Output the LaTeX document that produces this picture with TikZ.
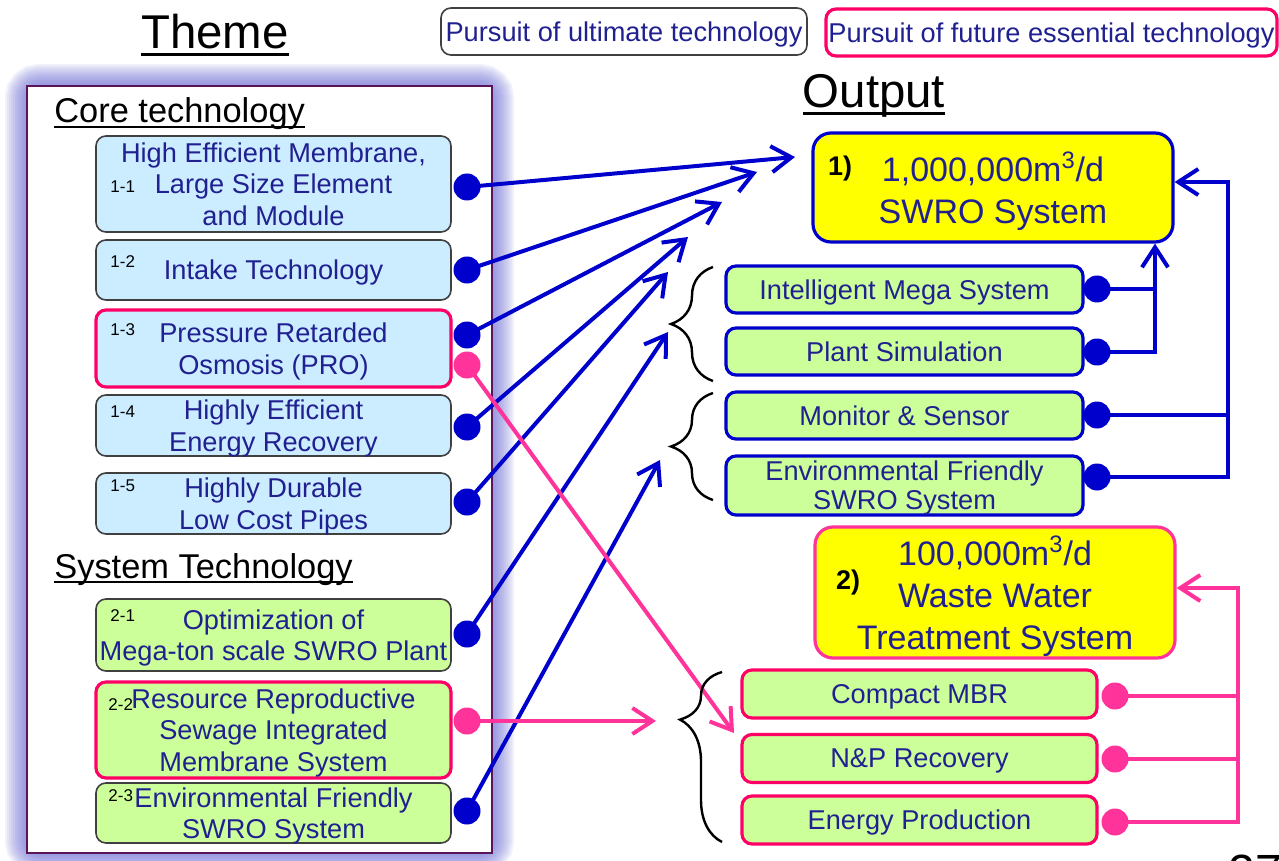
\documentclass[tikz,border=0pt]{standalone}
\usepackage{fontspec}
\setmainfont{Liberation Sans}
\usepackage{tikz}
\usetikzlibrary{arrows.meta,positioning,calc,decorations.pathreplacing}
\usepackage{xcolor}
\definecolor{LinkBlue}{RGB}{0,0,204}
\definecolor{LinkPink}{RGB}{255,51,153}
\definecolor{FutPink}{RGB}{255,0,102}
\definecolor{TxtNavy}{RGB}{32,32,144}
\definecolor{CoreBlue}{RGB}{204,236,255}
\definecolor{SysGreen}{RGB}{204,255,153}
\definecolor{OutYellow}{RGB}{255,255,0}
\definecolor{EdgeGray}{RGB}{64,64,64}
\definecolor{FramePlum}{RGB}{90,20,90}
\definecolor{GlowLav}{RGB}{100,100,210}
\newcommand{\headline}[1]{\setbox0=\hbox{#1}\rlap{\rule[-0.14em]{\wd0}{0.055em}}\box0}
\newcommand{\boxfont}{\fontsize{13.6}{15.8}\selectfont}
\newcommand{\outfont}{\fontsize{17}{21}\selectfont}

\begin{document}
\begin{tikzpicture}[x=0.5pt,y=-0.5pt,
  lbox/.style={rounded corners=5pt,minimum width=177.5pt,inner sep=0pt,text depth=0pt,
               align=center,text=TxtNavy,font=\boxfont},
  ultbox/.style={lbox,draw=EdgeGray,line width=0.8pt},
  futbox/.style={lbox,draw=FutPink,line width=1.6pt},
  rbox/.style={draw=LinkBlue,fill=SysGreen,line width=1.6pt,rounded corners=5pt,text depth=0pt,
               minimum height=23.5pt,inner sep=0pt,align=center,text=TxtNavy,font=\boxfont},
  pbox/.style={rbox,draw=FutPink,minimum width=177.5pt,minimum height=24pt},
  outbox/.style={fill=OutYellow,line width=1.6pt,rounded corners=9pt,minimum width=180pt,
                 inner sep=0pt,text depth=0pt,align=center,text=TxtNavy,font=\outfont},
  numtag/.style={font=\fontsize{8.5}{9}\selectfont,inner sep=0pt,anchor=west},
  heading/.style={font=\fontsize{17.2}{20}\selectfont,anchor=base west,inner sep=0pt},
  bdot/.style={circle,fill=LinkBlue,minimum size=13.5pt,inner sep=0pt},
  pdot/.style={bdot,fill=LinkPink},
  blink/.style={LinkBlue,line width=2pt},
  plink/.style={LinkPink,line width=2pt},
  tip/.style={-{Straight Barb[length=10pt,width=13pt]}},
  curly/.style={decorate,decoration={brace,amplitude=21pt},line width=1.2pt},
]
\useasboundingbox (0,0) rectangle (1279,861);

\node[font=\fontsize{23.7}{28}\selectfont,anchor=base,inner sep=0pt] (theme) at (215,49) {\headline{Theme}};
\node[font=\fontsize{23.7}{28}\selectfont,anchor=base,inner sep=0pt] (output) at (874,108) {\headline{Output}};
\node[ultbox,fill=white,minimum width=183pt,minimum height=23.5pt] (ult) at (624,31.5) {Pursuit of ultimate technology};
\node[futbox,fill=white,minimum width=225.5pt,minimum height=23.5pt] (fut) at (1051.5,32.5) {Pursuit of future essential technology};

\foreach \gw in {2,4,...,22}
  \draw[GlowLav,opacity=0.09,line width=\gw pt,rounded corners=6pt] (27,86) rectangle (492,853);
\draw[FramePlum,fill=white,line width=1.2pt] (27,86) rectangle (492,853);

\node[heading] (core) at (54,123) {\headline{Core technology}};
\node[heading] (systech) at (54,578) {\headline{System Technology}};

\node[ultbox,fill=CoreBlue,minimum height=48pt] (b11) at (273.5,184) {High Efficient Membrane,\\Large Size Element\\and Module};
\node[ultbox,fill=CoreBlue,minimum height=30pt] (b12) at (273.5,270) {Intake Technology};
\node[futbox,fill=CoreBlue,minimum height=38.5pt] (b13) at (273.5,348.5) {Pressure Retarded\\Osmosis (PRO)};
\node[ultbox,fill=CoreBlue,minimum height=30.5pt] (b14) at (273.5,425.5) {Highly Efficient\\Energy Recovery};
\node[ultbox,fill=CoreBlue,minimum height=30.5pt] (b15) at (273.5,503.5) {Highly Durable\\Low Cost Pipes};
\node[ultbox,fill=SysGreen,minimum height=36pt] (b21) at (273.5,635) {Optimization of\\Mega-ton scale SWRO Plant};
\node[futbox,fill=SysGreen,minimum height=48pt] (b22) at (273.5,730) {Resource Reproductive\\Sewage Integrated\\Membrane System};
\node[ultbox,fill=SysGreen,minimum height=30pt] (b23) at (273.5,813) {Environmental Friendly\\SWRO System};

\node[numtag] (n11) at (110,187) {1-1};
\node[numtag] (n12) at (110,262) {1-2};
\node[numtag] (n13) at (110,330) {1-3};
\node[numtag] (n14) at (110,412) {1-4};
\node[numtag] (n15) at (110,486) {1-5};
\node[numtag] (n21) at (110,616) {2-1};
\node[numtag] (n22) at (108,705) {2-2};
\node[numtag] (n23) at (108,796) {2-3};

\node[outbox,draw=LinkBlue,minimum height=54.5pt] (out1) at (993,187.5) {1,000,000m\textsuperscript{3}/d\\SWRO System};
\node[font=\bfseries\fontsize{13.5}{15}\selectfont,inner sep=0pt] (o1tag) at (840,169) {1)};
\node[outbox,draw=LinkPink,minimum height=65.5pt] (out2) at (995,592.5) {100,000m\textsuperscript{3}/d\\Waste Water\\Treatment System};
\node[font=\bfseries\fontsize{13.5}{15}\selectfont,inner sep=0pt] (o2tag) at (848,583) {2)};

\node[rbox,minimum width=178.5pt] (ims) at (904.5,289.5) {Intelligent Mega System};
\node[rbox,minimum width=178.5pt] (psim) at (904.5,351.5) {Plant Simulation};
\node[rbox,minimum width=178.5pt] (msen) at (904.5,415.5) {Monitor \& Sensor};
\node[rbox,minimum width=178.5pt,minimum height=29.5pt,font=\fontsize{13.6}{14.5}\selectfont] (efs) at (904.5,485.5) {Environmental Friendly\\SWRO System};

\node[pbox] (cmbr) at (919.5,694) {Compact MBR};
\node[pbox] (npr) at (919.5,758.5) {N\&P Recovery};
\node[pbox] (eprod) at (919.5,820) {Energy Production};

\node[bdot] (d11) at (467,187) {};
\node[bdot] (d12) at (467,270) {};
\node[bdot] (d13) at (467,335) {};
\node[pdot] (p13) at (467,365) {};
\node[bdot] (d14) at (467,427) {};
\node[bdot] (d15) at (467,502) {};
\node[bdot] (d21) at (467,634) {};
\node[pdot] (p22) at (467,721) {};
\node[bdot] (d23) at (467,811) {};

\node[bdot] (dims) at (1097,289) {};
\node[bdot] (dps) at (1097,352) {};
\node[bdot] (dms) at (1097,415) {};
\node[bdot] (defs) at (1097,477) {};
\node[pdot] (dcm) at (1115,696) {};
\node[pdot] (dnp) at (1115,759) {};
\node[pdot] (dep) at (1115,822) {};

\coordinate (t11) at (795,157);
\coordinate (t12) at (757,172);
\coordinate (t13) at (722,202);
\coordinate (t14) at (688,237);
\coordinate (t15) at (668,272);
\coordinate (t21) at (668,332);
\coordinate (t23) at (660,460);
\coordinate (q13) at (734,733);
\coordinate (q22) at (656,721);

\draw[blink,tip] (d11.center) -- (t11);
\draw[blink,tip] (d12.center) -- (t12);
\draw[blink,tip] (d13.center) -- (t13);
\draw[blink,tip] (d14.center) -- (t14);
\draw[blink,tip] (d15.center) -- (t15);
\draw[blink,tip] (d21.center) -- (t21);
\draw[blink,tip] (d23.center) -- (t23);
\draw[plink,tip] (p13.center) -- (q13);
\draw[plink,tip] (p22.center) -- (q22);

\draw[curly] (713,381) -- (713,267);
\draw[curly] (713,500) -- (713,393);
\draw[decorate,decoration={brace,amplitude=21pt,aspect=0.72},line width=1.2pt] (722,842) -- (722,672);

\coordinate (jA) at (1155,352);
\coordinate (jB) at (1228,182);
\coordinate (jC) at (1238,588);
\draw[blink] (dims.center) -- (dims.center -| jA);
\draw[blink,tip] (dps.center) -| (jA |- out1.south);
\draw[blink] (dms.center) -- (dms.center -| jB);
\draw[blink,tip] (defs.center) -| (jB) -- (jB -| out1.east);
\draw[plink] (dcm.center) -- (dcm.center -| jC);
\draw[plink] (dnp.center) -- (dnp.center -| jC);
\draw[plink,tip] (dep.center) -| (jC) -- (jC -| out2.east);

\node[font=\fontsize{24}{28}\selectfont,anchor=base west,inner sep=0pt] (pgno) at (1228,888) {27};
\end{tikzpicture}
\end{document}
